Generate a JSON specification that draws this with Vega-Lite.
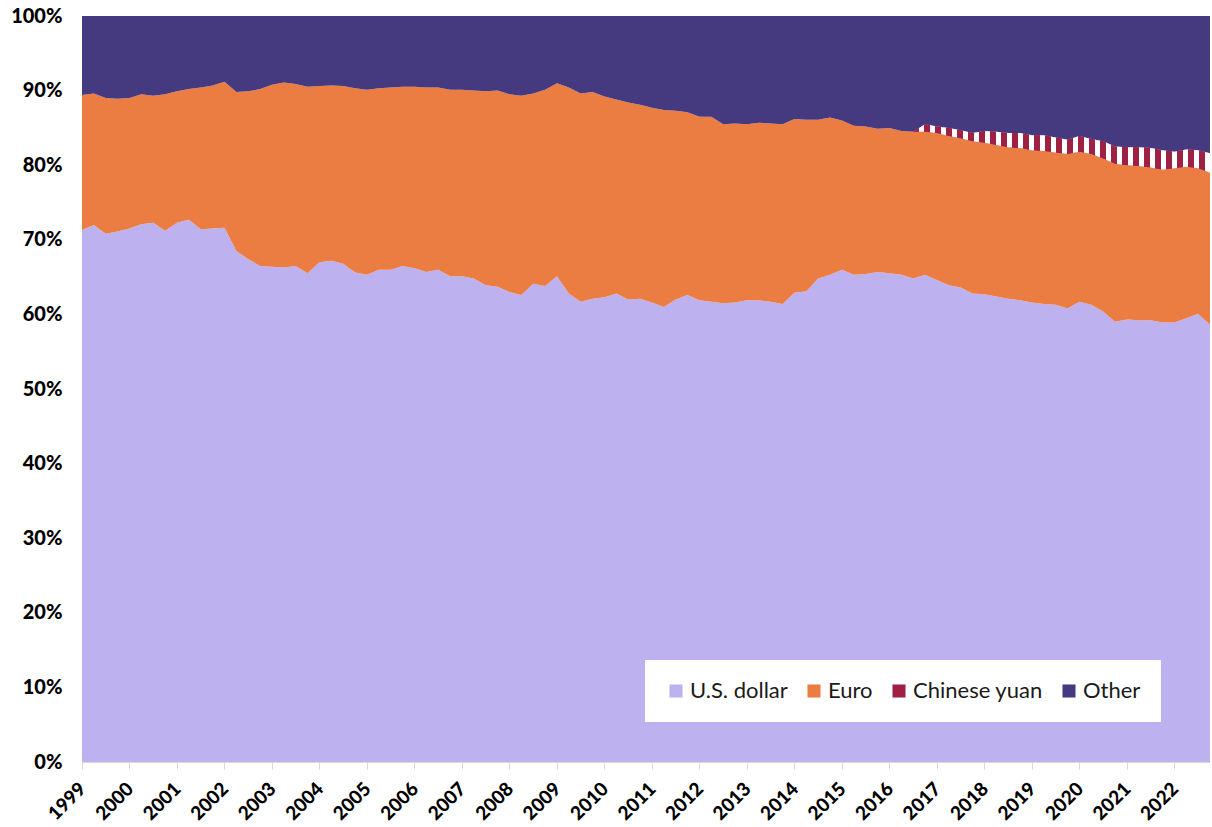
{
  "$schema": "https://vega.github.io/schema/vega-lite/v6.json",
  "width": 1128,
  "height": 746,
  "autosize": {"type": "none"},
  "padding": {"left": 82, "top": 16, "right": 2, "bottom": 65},
  "background": "white",
  "config": {"view": {"stroke": null}, "font": "Lato"},
  "data": {
    "values": [
      {"t": 1999.00, "s1": 71.3, "s2": 18.1, "s3": 0, "s4": 10.6},
      {"t": 1999.25, "s1": 72.0, "s2": 17.6, "s3": 0, "s4": 10.4},
      {"t": 1999.50, "s1": 70.8, "s2": 18.2, "s3": 0, "s4": 11.0},
      {"t": 1999.75, "s1": 71.1, "s2": 17.8, "s3": 0, "s4": 11.1},
      {"t": 2000.00, "s1": 71.5, "s2": 17.5, "s3": 0, "s4": 11.0},
      {"t": 2000.25, "s1": 72.1, "s2": 17.4, "s3": 0, "s4": 10.5},
      {"t": 2000.50, "s1": 72.3, "s2": 17.0, "s3": 0, "s4": 10.7},
      {"t": 2000.75, "s1": 71.2, "s2": 18.3, "s3": 0, "s4": 10.5},
      {"t": 2001.00, "s1": 72.3, "s2": 17.6, "s3": 0, "s4": 10.1},
      {"t": 2001.25, "s1": 72.7, "s2": 17.5, "s3": 0, "s4": 9.8},
      {"t": 2001.50, "s1": 71.4, "s2": 19.0, "s3": 0, "s4": 9.6},
      {"t": 2001.75, "s1": 71.5, "s2": 19.2, "s3": 0, "s4": 9.3},
      {"t": 2002.00, "s1": 71.6, "s2": 19.6, "s3": 0, "s4": 8.8},
      {"t": 2002.25, "s1": 68.5, "s2": 21.3, "s3": 0, "s4": 10.2},
      {"t": 2002.50, "s1": 67.4, "s2": 22.5, "s3": 0, "s4": 10.1},
      {"t": 2002.75, "s1": 66.5, "s2": 23.7, "s3": 0, "s4": 9.8},
      {"t": 2003.00, "s1": 66.4, "s2": 24.4, "s3": 0, "s4": 9.2},
      {"t": 2003.25, "s1": 66.3, "s2": 24.8, "s3": 0, "s4": 8.9},
      {"t": 2003.50, "s1": 66.5, "s2": 24.4, "s3": 0, "s4": 9.1},
      {"t": 2003.75, "s1": 65.5, "s2": 25.0, "s3": 0, "s4": 9.5},
      {"t": 2004.00, "s1": 67.0, "s2": 23.6, "s3": 0, "s4": 9.4},
      {"t": 2004.25, "s1": 67.2, "s2": 23.5, "s3": 0, "s4": 9.3},
      {"t": 2004.50, "s1": 66.8, "s2": 23.8, "s3": 0, "s4": 9.4},
      {"t": 2004.75, "s1": 65.6, "s2": 24.7, "s3": 0, "s4": 9.7},
      {"t": 2005.00, "s1": 65.3, "s2": 24.8, "s3": 0, "s4": 9.9},
      {"t": 2005.25, "s1": 66.0, "s2": 24.3, "s3": 0, "s4": 9.7},
      {"t": 2005.50, "s1": 66.0, "s2": 24.4, "s3": 0, "s4": 9.6},
      {"t": 2005.75, "s1": 66.5, "s2": 24.0, "s3": 0, "s4": 9.5},
      {"t": 2006.00, "s1": 66.2, "s2": 24.3, "s3": 0, "s4": 9.5},
      {"t": 2006.25, "s1": 65.7, "s2": 24.7, "s3": 0, "s4": 9.6},
      {"t": 2006.50, "s1": 66.0, "s2": 24.4, "s3": 0, "s4": 9.6},
      {"t": 2006.75, "s1": 65.1, "s2": 25.0, "s3": 0, "s4": 9.9},
      {"t": 2007.00, "s1": 65.1, "s2": 25.0, "s3": 0, "s4": 9.9},
      {"t": 2007.25, "s1": 64.8, "s2": 25.2, "s3": 0, "s4": 10.0},
      {"t": 2007.50, "s1": 63.9, "s2": 26.0, "s3": 0, "s4": 10.1},
      {"t": 2007.75, "s1": 63.7, "s2": 26.3, "s3": 0, "s4": 10.0},
      {"t": 2008.00, "s1": 63.0, "s2": 26.5, "s3": 0, "s4": 10.5},
      {"t": 2008.25, "s1": 62.6, "s2": 26.7, "s3": 0, "s4": 10.7},
      {"t": 2008.50, "s1": 64.1, "s2": 25.5, "s3": 0, "s4": 10.4},
      {"t": 2008.75, "s1": 63.8, "s2": 26.3, "s3": 0, "s4": 9.9},
      {"t": 2009.00, "s1": 65.1, "s2": 25.9, "s3": 0, "s4": 9.0},
      {"t": 2009.25, "s1": 62.8, "s2": 27.6, "s3": 0, "s4": 9.6},
      {"t": 2009.50, "s1": 61.7, "s2": 27.9, "s3": 0, "s4": 10.4},
      {"t": 2009.75, "s1": 62.1, "s2": 27.7, "s3": 0, "s4": 10.2},
      {"t": 2010.00, "s1": 62.3, "s2": 26.9, "s3": 0, "s4": 10.8},
      {"t": 2010.25, "s1": 62.8, "s2": 26.0, "s3": 0, "s4": 11.2},
      {"t": 2010.50, "s1": 62.0, "s2": 26.4, "s3": 0, "s4": 11.6},
      {"t": 2010.75, "s1": 62.1, "s2": 26.0, "s3": 0, "s4": 11.9},
      {"t": 2011.00, "s1": 61.6, "s2": 26.1, "s3": 0, "s4": 12.3},
      {"t": 2011.25, "s1": 61.0, "s2": 26.4, "s3": 0, "s4": 12.6},
      {"t": 2011.50, "s1": 62.0, "s2": 25.3, "s3": 0, "s4": 12.7},
      {"t": 2011.75, "s1": 62.6, "s2": 24.5, "s3": 0, "s4": 12.9},
      {"t": 2012.00, "s1": 61.9, "s2": 24.6, "s3": 0, "s4": 13.5},
      {"t": 2012.25, "s1": 61.7, "s2": 24.8, "s3": 0, "s4": 13.5},
      {"t": 2012.50, "s1": 61.5, "s2": 24.0, "s3": 0, "s4": 14.5},
      {"t": 2012.75, "s1": 61.6, "s2": 24.0, "s3": 0, "s4": 14.4},
      {"t": 2013.00, "s1": 61.9, "s2": 23.6, "s3": 0, "s4": 14.5},
      {"t": 2013.25, "s1": 61.9, "s2": 23.8, "s3": 0, "s4": 14.3},
      {"t": 2013.50, "s1": 61.7, "s2": 23.9, "s3": 0, "s4": 14.4},
      {"t": 2013.75, "s1": 61.4, "s2": 24.1, "s3": 0, "s4": 14.5},
      {"t": 2014.00, "s1": 62.9, "s2": 23.3, "s3": 0, "s4": 13.8},
      {"t": 2014.25, "s1": 63.1, "s2": 23.0, "s3": 0, "s4": 13.9},
      {"t": 2014.50, "s1": 64.8, "s2": 21.3, "s3": 0, "s4": 13.9},
      {"t": 2014.75, "s1": 65.3, "s2": 21.1, "s3": 0, "s4": 13.6},
      {"t": 2015.00, "s1": 66.0, "s2": 20.0, "s3": 0, "s4": 14.0},
      {"t": 2015.25, "s1": 65.3, "s2": 20.0, "s3": 0, "s4": 14.7},
      {"t": 2015.50, "s1": 65.4, "s2": 19.8, "s3": 0, "s4": 14.8},
      {"t": 2015.75, "s1": 65.7, "s2": 19.2, "s3": 0, "s4": 15.1},
      {"t": 2016.00, "s1": 65.5, "s2": 19.5, "s3": 0, "s4": 15.0},
      {"t": 2016.25, "s1": 65.3, "s2": 19.3, "s3": 0, "s4": 15.4},
      {"t": 2016.50, "s1": 64.8, "s2": 19.7, "s3": 0, "s4": 15.5},
      {"t": 2016.75, "s1": 65.3, "s2": 19.2, "s3": 1.0, "s4": 14.5},
      {"t": 2017.00, "s1": 64.6, "s2": 19.7, "s3": 0.9, "s4": 14.8},
      {"t": 2017.25, "s1": 63.9, "s2": 20.0, "s3": 1.1, "s4": 15.0},
      {"t": 2017.50, "s1": 63.6, "s2": 20.0, "s3": 1.1, "s4": 15.3},
      {"t": 2017.75, "s1": 62.8, "s2": 20.4, "s3": 1.1, "s4": 15.7},
      {"t": 2018.00, "s1": 62.7, "s2": 20.3, "s3": 1.6, "s4": 15.4},
      {"t": 2018.25, "s1": 62.4, "s2": 20.3, "s3": 1.8, "s4": 15.5},
      {"t": 2018.50, "s1": 62.1, "s2": 20.3, "s3": 1.9, "s4": 15.7},
      {"t": 2018.75, "s1": 61.9, "s2": 20.4, "s3": 2.0, "s4": 15.7},
      {"t": 2019.00, "s1": 61.6, "s2": 20.4, "s3": 2.0, "s4": 16.0},
      {"t": 2019.25, "s1": 61.4, "s2": 20.5, "s3": 2.1, "s4": 16.0},
      {"t": 2019.50, "s1": 61.3, "s2": 20.4, "s3": 2.0, "s4": 16.3},
      {"t": 2019.75, "s1": 60.8, "s2": 20.7, "s3": 1.9, "s4": 16.6},
      {"t": 2020.00, "s1": 61.7, "s2": 20.1, "s3": 2.1, "s4": 16.1},
      {"t": 2020.25, "s1": 61.3, "s2": 20.2, "s3": 2.0, "s4": 16.5},
      {"t": 2020.50, "s1": 60.4, "s2": 20.5, "s3": 2.3, "s4": 16.8},
      {"t": 2020.75, "s1": 59.0, "s2": 21.2, "s3": 2.3, "s4": 17.5},
      {"t": 2021.00, "s1": 59.3, "s2": 20.7, "s3": 2.4, "s4": 17.6},
      {"t": 2021.25, "s1": 59.2, "s2": 20.7, "s3": 2.5, "s4": 17.6},
      {"t": 2021.50, "s1": 59.2, "s2": 20.5, "s3": 2.6, "s4": 17.7},
      {"t": 2021.75, "s1": 58.9, "s2": 20.5, "s3": 2.6, "s4": 18.0},
      {"t": 2022.00, "s1": 58.9, "s2": 20.7, "s3": 2.2, "s4": 18.2},
      {"t": 2022.25, "s1": 59.5, "s2": 20.3, "s3": 2.3, "s4": 17.9},
      {"t": 2022.50, "s1": 60.1, "s2": 19.5, "s3": 2.4, "s4": 18.0},
      {"t": 2022.75, "s1": 58.6, "s2": 20.4, "s3": 2.6, "s4": 18.4}
    ]
  },
  "transform": [
    {"fold": ["s1", "s2", "s3", "s4"], "as": ["key", "share"]},
    {"stack": "share", "groupby": ["t"], "sort": [{"field": "key", "order": "ascending"}], "as": ["y0", "y1"]}
  ],
  "layer": [
    {
      "mark": {"type": "area", "interpolate": "linear"},
      "encoding": {
        "x": {
          "field": "t", "type": "quantitative",
          "scale": {"domain": [1999, 2022.75], "nice": false, "zero": false},
          "axis": {
            "title": null, "values": [1999,2000,2001,2002,2003,2004,2005,2006,2007,2008,2009,2010,2011,2012,2013,2014,2015,2016,2017,2018,2019,2020,2021,2022],
            "format": "d", "labelAngle": -45, "labelAlign": "right", "labelFont": "Lato", "labelFontSize": 19, "labelFontWeight": 900,
            "labelColor": "#000000", "tickColor": "#D9D9D9", "tickSize": 7, "domainColor": "#D9D9D9",
            "grid": false, "labelPadding": 10, "labelOffset": -6, "labelOverlap": false, "labelBound": false, "labelFlush": false
          }
        },
        "y": {
          "field": "y1", "type": "quantitative",
          "scale": {"domain": [0, 100], "nice": false},
          "axis": {
            "title": null, "values": [0,10,20,30,40,50,60,70,80,90,100],
            "labelExpr": "datum.value + '%'", "ticks": false, "domainColor": "#D9D9D9", "grid": false,
            "labelPadding": 20, "labelFont": "Lato", "labelFontSize": 20, "labelFontWeight": 900, "labelColor": "#000000"
          }
        },
        "y2": {"field": "y0"},
        "color": {
          "field": "key", "type": "nominal",
          "scale": {"domain": ["s1", "s2", "s3", "s4"], "range": ["#BDB1EF", "#EB7D42", "#9E2144", "#45397F"]},
          "legend": {
            "title": null, "orient": "none", "legendX": 563, "legendY": 644, "direction": "horizontal",
            "fillColor": "#FFFFFF", "padding": 20, "symbolType": "square", "symbolSize": 170, "symbolStrokeWidth": 0,
            "labelFont": "Lato", "labelFontSize": 22, "labelColor": "#1A1A1A", "labelOffset": 3, "columnPadding": 15,
            "labelExpr": "datum.label == 's1' ? 'U.S. dollar' : datum.label == 's2' ? 'Euro' : datum.label == 's3' ? 'Chinese yuan' : 'Other'"
          }
        }
      }
    },
    {
      "transform": [{"filter": "datum.key == 's3' && datum.t >= 2016.5"}],
      "mark": {
        "type": "area",
        "interpolate": "linear",
        "color": {
          "gradient": "linear", "x1": 0, "y1": 0, "x2": 1, "y2": 0,
          "stops": [
            {"offset": 0.0000, "color": "#9E2144"}, {"offset": 0.0204, "color": "#9E2144"}, {"offset": 0.0204, "color": "#FFFFFF"}, {"offset": 0.0370, "color": "#FFFFFF"},
            {"offset": 0.0370, "color": "#9E2144"}, {"offset": 0.0574, "color": "#9E2144"}, {"offset": 0.0574, "color": "#FFFFFF"}, {"offset": 0.0741, "color": "#FFFFFF"},
            {"offset": 0.0741, "color": "#9E2144"}, {"offset": 0.0944, "color": "#9E2144"}, {"offset": 0.0944, "color": "#FFFFFF"}, {"offset": 0.1111, "color": "#FFFFFF"},
            {"offset": 0.1111, "color": "#9E2144"}, {"offset": 0.1315, "color": "#9E2144"}, {"offset": 0.1315, "color": "#FFFFFF"}, {"offset": 0.1481, "color": "#FFFFFF"},
            {"offset": 0.1481, "color": "#9E2144"}, {"offset": 0.1685, "color": "#9E2144"}, {"offset": 0.1685, "color": "#FFFFFF"}, {"offset": 0.1852, "color": "#FFFFFF"},
            {"offset": 0.1852, "color": "#9E2144"}, {"offset": 0.2056, "color": "#9E2144"}, {"offset": 0.2056, "color": "#FFFFFF"}, {"offset": 0.2222, "color": "#FFFFFF"},
            {"offset": 0.2222, "color": "#9E2144"}, {"offset": 0.2426, "color": "#9E2144"}, {"offset": 0.2426, "color": "#FFFFFF"}, {"offset": 0.2593, "color": "#FFFFFF"},
            {"offset": 0.2593, "color": "#9E2144"}, {"offset": 0.2796, "color": "#9E2144"}, {"offset": 0.2796, "color": "#FFFFFF"}, {"offset": 0.2963, "color": "#FFFFFF"},
            {"offset": 0.2963, "color": "#9E2144"}, {"offset": 0.3167, "color": "#9E2144"}, {"offset": 0.3167, "color": "#FFFFFF"}, {"offset": 0.3333, "color": "#FFFFFF"},
            {"offset": 0.3333, "color": "#9E2144"}, {"offset": 0.3537, "color": "#9E2144"}, {"offset": 0.3537, "color": "#FFFFFF"}, {"offset": 0.3704, "color": "#FFFFFF"},
            {"offset": 0.3704, "color": "#9E2144"}, {"offset": 0.3907, "color": "#9E2144"}, {"offset": 0.3907, "color": "#FFFFFF"}, {"offset": 0.4074, "color": "#FFFFFF"},
            {"offset": 0.4074, "color": "#9E2144"}, {"offset": 0.4278, "color": "#9E2144"}, {"offset": 0.4278, "color": "#FFFFFF"}, {"offset": 0.4444, "color": "#FFFFFF"},
            {"offset": 0.4444, "color": "#9E2144"}, {"offset": 0.4648, "color": "#9E2144"}, {"offset": 0.4648, "color": "#FFFFFF"}, {"offset": 0.4815, "color": "#FFFFFF"},
            {"offset": 0.4815, "color": "#9E2144"}, {"offset": 0.5019, "color": "#9E2144"}, {"offset": 0.5019, "color": "#FFFFFF"}, {"offset": 0.5185, "color": "#FFFFFF"},
            {"offset": 0.5185, "color": "#9E2144"}, {"offset": 0.5389, "color": "#9E2144"}, {"offset": 0.5389, "color": "#FFFFFF"}, {"offset": 0.5556, "color": "#FFFFFF"},
            {"offset": 0.5556, "color": "#9E2144"}, {"offset": 0.5759, "color": "#9E2144"}, {"offset": 0.5759, "color": "#FFFFFF"}, {"offset": 0.5926, "color": "#FFFFFF"},
            {"offset": 0.5926, "color": "#9E2144"}, {"offset": 0.6130, "color": "#9E2144"}, {"offset": 0.6130, "color": "#FFFFFF"}, {"offset": 0.6296, "color": "#FFFFFF"},
            {"offset": 0.6296, "color": "#9E2144"}, {"offset": 0.6500, "color": "#9E2144"}, {"offset": 0.6500, "color": "#FFFFFF"}, {"offset": 0.6667, "color": "#FFFFFF"},
            {"offset": 0.6667, "color": "#9E2144"}, {"offset": 0.6870, "color": "#9E2144"}, {"offset": 0.6870, "color": "#FFFFFF"}, {"offset": 0.7037, "color": "#FFFFFF"},
            {"offset": 0.7037, "color": "#9E2144"}, {"offset": 0.7241, "color": "#9E2144"}, {"offset": 0.7241, "color": "#FFFFFF"}, {"offset": 0.7407, "color": "#FFFFFF"},
            {"offset": 0.7407, "color": "#9E2144"}, {"offset": 0.7611, "color": "#9E2144"}, {"offset": 0.7611, "color": "#FFFFFF"}, {"offset": 0.7778, "color": "#FFFFFF"},
            {"offset": 0.7778, "color": "#9E2144"}, {"offset": 0.7981, "color": "#9E2144"}, {"offset": 0.7981, "color": "#FFFFFF"}, {"offset": 0.8148, "color": "#FFFFFF"},
            {"offset": 0.8148, "color": "#9E2144"}, {"offset": 0.8352, "color": "#9E2144"}, {"offset": 0.8352, "color": "#FFFFFF"}, {"offset": 0.8519, "color": "#FFFFFF"},
            {"offset": 0.8519, "color": "#9E2144"}, {"offset": 0.8722, "color": "#9E2144"}, {"offset": 0.8722, "color": "#FFFFFF"}, {"offset": 0.8889, "color": "#FFFFFF"},
            {"offset": 0.8889, "color": "#9E2144"}, {"offset": 0.9093, "color": "#9E2144"}, {"offset": 0.9093, "color": "#FFFFFF"}, {"offset": 0.9259, "color": "#FFFFFF"},
            {"offset": 0.9259, "color": "#9E2144"}, {"offset": 0.9463, "color": "#9E2144"}, {"offset": 0.9463, "color": "#FFFFFF"}, {"offset": 0.9630, "color": "#FFFFFF"},
            {"offset": 0.9630, "color": "#9E2144"}, {"offset": 0.9833, "color": "#9E2144"}, {"offset": 0.9833, "color": "#FFFFFF"}, {"offset": 1.0000, "color": "#FFFFFF"}
          ]
        }
      },
      "encoding": {
        "x": {"field": "t", "type": "quantitative"},
        "y": {"field": "y1", "type": "quantitative"},
        "y2": {"field": "y0"}
      }
    }
  ]
}
